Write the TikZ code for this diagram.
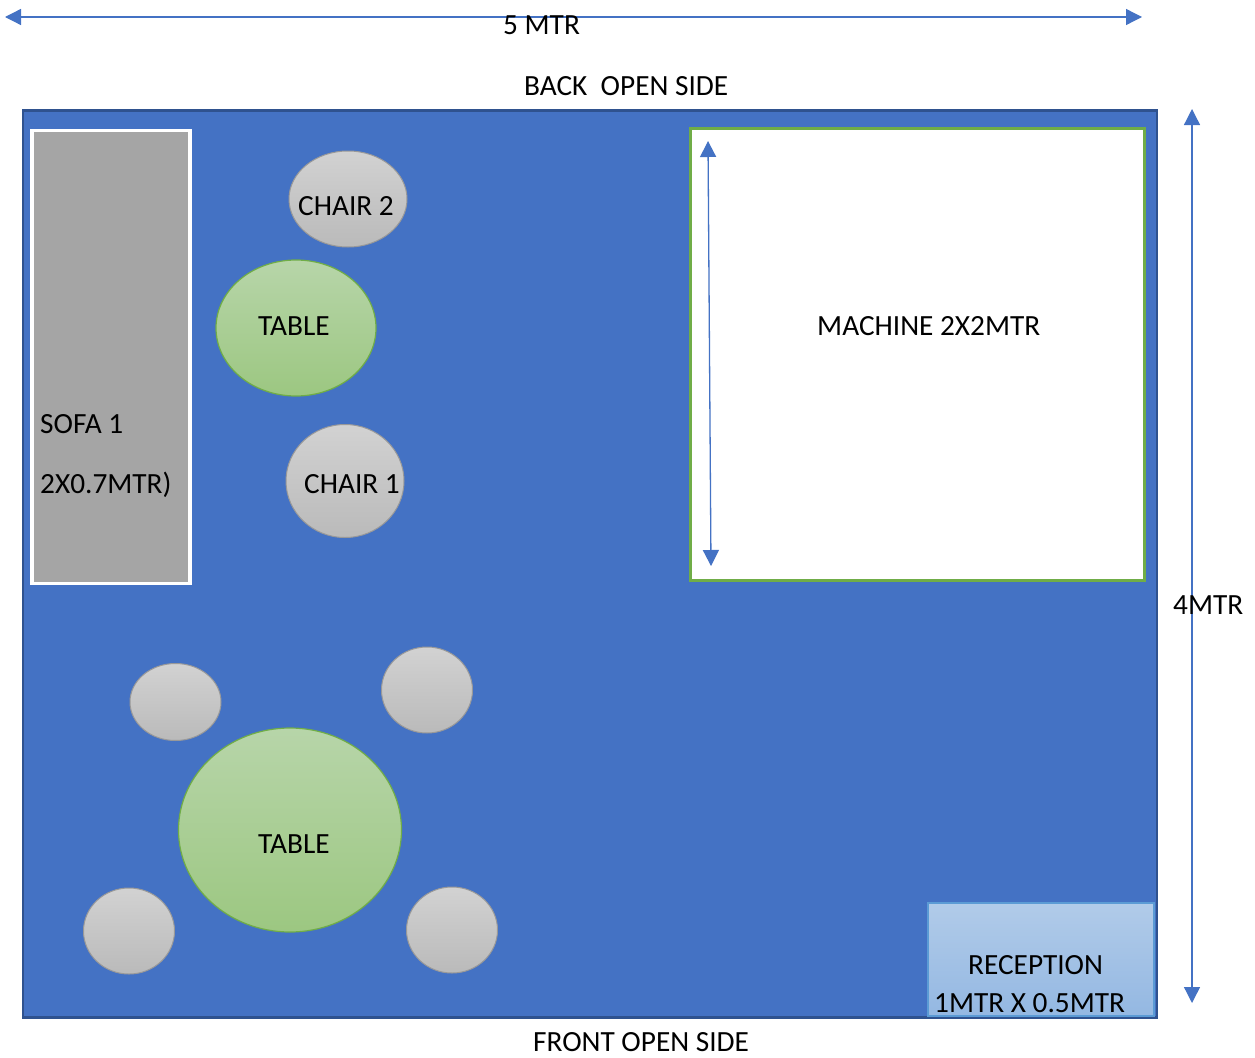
\documentclass[tikz,border=0pt]{standalone}
\usepackage{fontspec}
\setmainfont{Carlito}
\usetikzlibrary{shapes.geometric,arrows.meta}
\definecolor{roomblue}{HTML}{4472C4}
\definecolor{roomedge}{HTML}{2F528F}
\definecolor{linkblue}{HTML}{4472C4}
\definecolor{greenedge}{HTML}{70AD47}
\definecolor{sofagrey}{HTML}{A5A5A5}
\definecolor{chairtop}{HTML}{D2D2D2}
\definecolor{chairbot}{HTML}{BABABA}
\definecolor{tabletop}{HTML}{B7D5A9}
\definecolor{tablebot}{HTML}{9CC781}
\definecolor{rectop}{HTML}{B1CBE9}
\definecolor{recbot}{HTML}{94B8E2}
\definecolor{recedge}{HTML}{5B9BD5}
\tikzset{
  lbl/.style={font=\fontsize{29.3}{34}\selectfont, text=black, inner sep=0pt},
  lblw/.style={lbl, anchor=base west},
  dim/.style={draw=linkblue, line width=1.3pt, {Triangle[length=16pt,width=16pt]}-{Triangle[length=16pt,width=16pt]}},
  chairshape/.style={ellipse, draw=black!40, line width=1pt, top color=chairtop, bottom color=chairbot, inner sep=0pt},
  tableshape/.style={ellipse, draw=greenedge, line width=1.2pt, top color=tabletop, bottom color=tablebot, inner sep=0pt},
}
\begin{document}
\begin{tikzpicture}[x=1pt,y=-1pt]
\useasboundingbox (0,0) rectangle (1255,1057);
% room
\node[draw=roomedge, fill=roomblue, line width=2.5pt, minimum width=1134pt, minimum height=907pt, inner sep=0pt] (room) at (590,564) {};
% sofa
\node[draw=white, fill=sofagrey, line width=3.5pt, minimum width=158pt, minimum height=453pt, inner sep=0pt] (sofa) at (111,357) {};
% machine
\node[draw=greenedge, fill=white, line width=3pt, minimum width=454pt, minimum height=452pt, inner sep=0pt] (machine) at (917,354.5) {};
% reception
\node[draw=recedge, top color=rectop, bottom color=recbot, line width=2pt, minimum width=226pt, minimum height=113pt, inner sep=0pt] (reception) at (1041,959) {};
% tables
\node[tableshape, minimum width=160pt, minimum height=136pt] (table1) at (296,328) {};
\node[tableshape, minimum width=223pt, minimum height=204pt] (table2) at (290,830) {};
% chairs
\node[chairshape, minimum width=118pt, minimum height=96pt] (chair2) at (348,199) {};
\node[chairshape, minimum width=118pt, minimum height=113pt] (chair1) at (345,481) {};
\node[chairshape, minimum width=91pt, minimum height=77pt] (chair3) at (175.5,702) {};
\node[chairshape, minimum width=91pt, minimum height=86pt] (chair4) at (427,690) {};
\node[chairshape, minimum width=91pt, minimum height=86pt] (chair5) at (129,931) {};
\node[chairshape, minimum width=91pt, minimum height=86pt] (chair6) at (452,930) {};
% dimension arrows
\coordinate (wl) at (5,17);
\coordinate (wr) at (1142,17);
\coordinate (ht) at (1192,109);
\coordinate (hb) at (1192,1003);
\coordinate (mt) at (708,141);
\coordinate (mb) at (711,566);
\draw[dim] (wl) -- (wr);
\draw[dim] (ht) -- (hb);
\draw[dim] (mt) -- (mb);
% labels
\node[lblw] (t5m) at (503,35) {5 MTR};
\node[lblw] (tback) at (524,95) {BACK\ \ OPEN SIDE};
\node[lblw] (tfront) at (533,1051) {FRONT OPEN SIDE};
\node[lblw] (t4m) at (1173,614) {4MTR};
\node[lblw] (tchair2) at (298,215) {CHAIR 2};
\node[lblw] (ttable1) at (258,335) {TABLE};
\node[lblw] (tsofa1) at (40,433) {SOFA 1};
\node[lblw] (tsofa2) at (40,493) {2X0.7MTR)};
\node[lblw] (tchair1) at (304,493) {CHAIR 1};
\node[lblw] (tmach) at (817,335) {MACHINE 2X2MTR};
\node[lblw] (ttable2) at (258,853) {TABLE};
\node[lblw] (trec1) at (968,974) {RECEPTION};
\node[lblw] (trec2) at (934,1012) {1MTR X 0.5MTR};
\end{tikzpicture}
\end{document}
